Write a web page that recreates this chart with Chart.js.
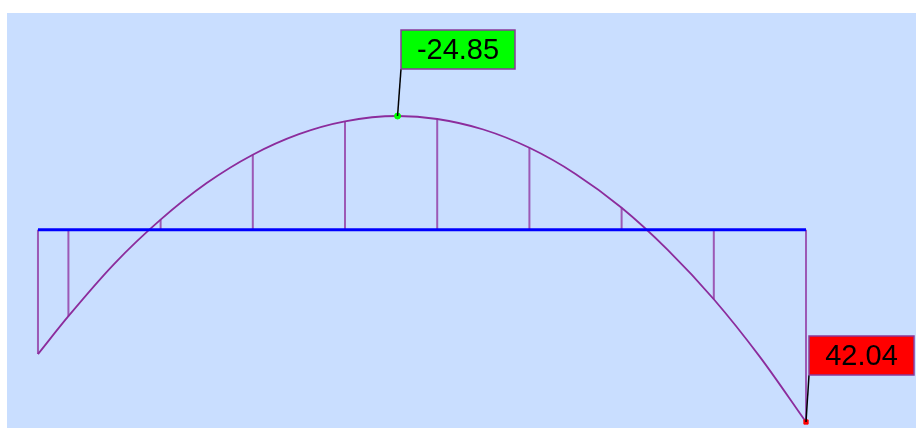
<!DOCTYPE html>
<html>
<head>
<meta charset="utf-8">
<script src="https://cdn.jsdelivr.net/npm/chart.js@4"></script>
<style>
  body { margin: 0; background: #ffffff; }
  #wrap { width: 916px; height: 428px; }
</style>
</head>
<body>
<div id="wrap"><canvas id="momentChart" width="916" height="428"></canvas></div>
<script>
// beam positions (m) and bending moment values
const curveX = [0, 0.33, 0.83, 1.33, 1.83, 2.33, 2.83, 3.33, 3.9, 4.33, 4.83, 5.33, 5.83, 6.33, 6.83, 7.33, 7.83, 8.33];
const curveM = [27.2, 18.9, 7.4, -2.2, -10.2, -16.4, -20.9, -23.7, -24.85, -24.2, -21.9, -17.9, -12.2, -4.8, 4.4, 15.2, 27.8, 42.04];

// vertical hatch stations
const hatchX = [0, 0.33, 1.33, 2.33, 3.33, 4.33, 5.33, 6.33, 7.33, 8.33];
const hatchM = [27.2, 18.9, -2.2, -16.4, -23.7, -24.2, -17.9, -4.8, 15.2, 42.04];

// beam axis
const beamX = [0, 8.33];

// marked extremes
const markX = [3.9, 8.33];
const markM = [-24.85, 42.04];
const markText = ["-24.85", "42.04"];
const markColor = ["#00ff00", "#ff0000"];

const PURPLE = "#8c2c9c";

const panelPlugin = {
  id: "panel",
  beforeDraw(chart) {
    const { ctx, chartArea: a } = chart;
    ctx.save();
    ctx.fillStyle = "#c9deff";
    ctx.fillRect(a.left, a.top, a.right - a.left, a.bottom - a.top);
    ctx.restore();
  }
};

const tagPlugin = {
  id: "tags",
  afterDatasetsDraw(chart) {
    const ctx = chart.ctx;
    const xs = chart.scales.x, ys = chart.scales.y;
    ctx.save();
    ctx.font = '29px "Liberation Sans", Arial, sans-serif';
    markX.forEach((v, i) => {
      const px = xs.getPixelForValue(v);
      const py = ys.getPixelForValue(markM[i]);
      const w = Math.round(ctx.measureText(markText[i]).width + 32);
      const h = 39;
      const bx = Math.round(px + 3);
      const by = Math.round(py - 47 - h);

      ctx.strokeStyle = "#000000";
      ctx.lineWidth = 1.5;
      ctx.beginPath();
      ctx.moveTo(px, py);
      ctx.lineTo(bx, by + h);
      ctx.stroke();

      ctx.fillStyle = markColor[i];
      ctx.fillRect(bx, by, w, h);
      ctx.strokeStyle = "#8a3a9a";
      ctx.lineWidth = 1.5;
      ctx.strokeRect(bx, by, w, h);

      ctx.fillStyle = "#000000";
      ctx.textAlign = "center";
      ctx.textBaseline = "middle";
      ctx.fillText(markText[i], bx + w / 2, by + h / 2 + 1);
    });
    ctx.restore();
  }
};

const hatchSets = hatchX.map((x, i) => ({
  type: "line",
  data: [{ x: x, y: 0 }, { x: x, y: hatchM[i] }],
  borderColor: "rgba(140,44,156,0.75)",
  borderWidth: 2,
  pointRadius: 0,
  order: 4
}));

new Chart(document.getElementById("momentChart"), {
  type: "scatter",
  data: {
    datasets: [
      {
        label: "marks",
        data: markX.map((x, i) => ({ x: x, y: markM[i] })),
        pointStyle: ["circle", "rect"],
        pointRadius: [3, 3],
        pointBackgroundColor: markColor,
        pointBorderColor: markColor,
        showLine: false,
        order: 0
      },
      {
        label: "moment",
        type: "line",
        data: curveX.map((x, i) => ({ x: x, y: curveM[i] })),
        borderColor: PURPLE,
        borderWidth: 1.8,
        pointRadius: 0,
        cubicInterpolationMode: "monotone",
        order: 2
      },
      {
        label: "beam",
        type: "line",
        data: beamX.map(x => ({ x: x, y: 0 })),
        borderColor: "#0000ff",
        borderWidth: 3,
        pointRadius: 0,
        order: 1
      },
      ...hatchSets
    ]
  },
  options: {
    responsive: false,
    animation: false,
    layout: { autoPadding: false, padding: { left: 7, top: 13, right: 0, bottom: 0 } },
    plugins: {
      legend: { display: false },
      tooltip: { enabled: false }
    },
    scales: {
      x: { type: "linear", display: false, min: -0.336, max: 9.523 },
      y: { type: "linear", display: false, reverse: true, min: -47.37, max: 43.35 }
    }
  },
  plugins: [panelPlugin, tagPlugin]
});
</script>
</body>
</html>
